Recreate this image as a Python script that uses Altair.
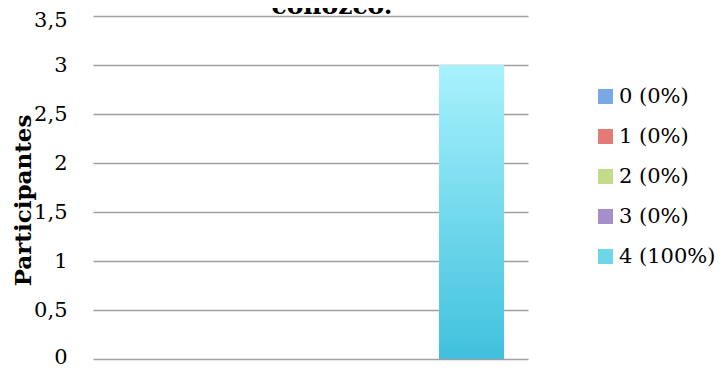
import altair as alt
import pandas as pd

categories = ["\u00a00 (0%)", "1 (0%)", "2 (0%)", "3 (0%)", "4 (100%)"]
values = [0, 0, 0, 0, 3]
colors = ["#79a8e4", "#e47a76", "#c2dc8c", "#a58fca", "#6ed6ea"]
y_ticks = [0, 0.5, 1, 1.5, 2, 2.5, 3, 3.5]
title_text = "conozco."
y_title = "Participantes"

df = pd.DataFrame({"cat": categories, "val": values})
FONT = "DejaVu Serif"

x_enc = alt.X("cat:N", sort=categories, axis=None,
              scale=alt.Scale(paddingInner=0.193, paddingOuter=0.298))
y_enc = alt.Y("val:Q",
              scale=alt.Scale(domain=[0, 3.5], nice=False),
              axis=alt.Axis(values=y_ticks, title=y_title, domain=False, ticks=False, tickSize=0,
                            labelExpr="replace(format(datum.value, '~g'), '.', ',')",
                            labelFont=FONT, labelFontSize=21, labelColor="#000000", labelPadding=26,
                            labelOffset={"condition": [{"test": "datum.value == 3.5", "value": 4},
                                                       {"test": "datum.value == 0", "value": -2}],
                                         "value": 0},
                            titleFont=FONT, titleFontSize=23, titleFontWeight="bold", titleColor="#000000",
                            titleAngle=270, titleBaseline="middle", titleAlign="center",
                            titleX=-70, titleY=184,
                            grid=True, gridColor="#a0a0a0", gridWidth=1.5))

base = alt.Chart(df)
legend_bars = base.mark_bar().encode(
    x=x_enc, y=y_enc,
    color=alt.Color("cat:N", sort=categories,
                    scale=alt.Scale(domain=categories, range=colors),
                    legend=alt.Legend(title=None, orient="none", legendX=502, legendY=70,
                                      symbolType="square", symbolSize=225, symbolStrokeWidth=0,
                                      labelFont=FONT, labelFontSize=21, labelColor="#000000",
                                      labelOffset=3, rowPadding=18, padding=0, labelLimit=200)))

grad = alt.Gradient(gradient="linear",
                    stops=[alt.GradientStop(color="#a8f2fd", offset=0),
                           alt.GradientStop(color="#40c1dd", offset=1)],
                    x1=0, x2=0, y1=0, y2=1)
grad_bars = base.mark_bar(fill=grad).encode(x=x_enc, y=y_enc)

title_layer = alt.Chart(pd.DataFrame({"t": [title_text]})).mark_text(
    font=FONT, fontSize=25, fontWeight="bold", color="#000000",
    align="center", baseline="alphabetic"
).encode(text="t:N", x=alt.value(239), y=alt.value(-2))

chart = alt.layer(legend_bars, grad_bars, title_layer).properties(
    width=435, height=343,
    autosize=alt.AutoSizeParams(type="none"),
    padding={"left": 85, "top": 8, "right": 189, "bottom": 9}
).configure_view(stroke=None)

chart.save("out.html", embed_options={"renderer": "svg", "actions": False})
